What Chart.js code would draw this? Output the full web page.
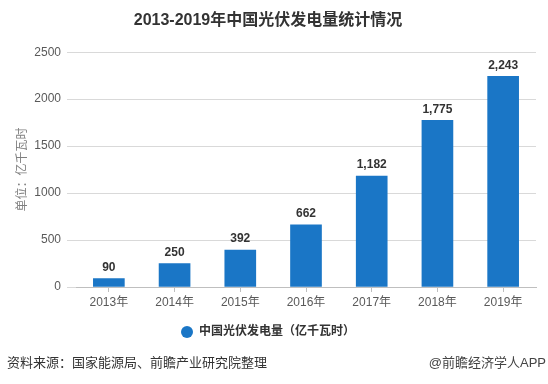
<!DOCTYPE html>
<html>
<head>
<meta charset="utf-8">
<script src="https://cdn.jsdelivr.net/npm/chart.js@4/dist/chart.umd.min.js"></script>
<style>
  body { margin: 0; background: #fff; }
  #wrap { position: relative; width: 548px; height: 384px; }
  .foot { position: absolute; top: 355px; font: 13px 'Liberation Sans', 'Noto Sans CJK SC', sans-serif; color: #333; line-height: 16px; white-space: nowrap; }
  #src { left: 7px; }
  #app { right: 2px; color: #444; }
</style>
</head>
<body>
<div id="wrap">
  <canvas id="chart" width="548" height="384"></canvas>
  <div class="foot" id="src">资料来源：国家能源局、前瞻产业研究院整理</div>
  <div class="foot" id="app">@前瞻经济学人APP</div>
</div>
<script>
// 数据
const years = ['2013年', '2014年', '2015年', '2016年', '2017年', '2018年', '2019年'];
const generation = [90, 250, 392, 662, 1182, 1775, 2243];
const yTicks = [0, 500, 1000, 1500, 2000, 2500];

const FONT = "'Liberation Sans', 'Noto Sans CJK SC', sans-serif";

// 柱顶数值
const barLabels = {
  id: 'barLabels',
  afterDatasetsDraw(chart) {
    const ctx = chart.ctx;
    const meta = chart.getDatasetMeta(0);
    ctx.save();
    ctx.font = 'bold 12px ' + FONT;
    ctx.fillStyle = '#333';
    ctx.textAlign = 'center';
    ctx.textBaseline = 'middle';
    meta.data.forEach((bar, i) => {
      ctx.fillText(generation[i].toLocaleString('en-US'), bar.x, bar.y - 11);
    });
    ctx.restore();
  }
};

const ctx = document.getElementById('chart').getContext('2d');
new Chart(ctx, {
  type: 'bar',
  data: {
    labels: years,
    datasets: [{
      label: '中国光伏发电量（亿千瓦时）',
      data: generation,
      backgroundColor: '#1a76c6',
      barThickness: 31
    }]
  },
  options: {
    responsive: false,
    animation: false,
    layout: { padding: { left: 0, right: 12, top: 0, bottom: 36 } },
    plugins: {
      title: {
        display: true,
        text: '2013-2019年中国光伏发电量统计情况',
        color: '#333',
        font: { family: FONT, size: 16, weight: 'bold' },
        padding: { top: 11, bottom: 22 }
      },
      legend: {
        position: 'bottom',
        labels: {
          usePointStyle: true,
          pointStyle: 'circle',
          boxWidth: 12,
          boxHeight: 8.5,
          padding: 9,
          color: '#333',
          font: { family: FONT, size: 12, weight: 'bold' }
        }
      },
      tooltip: { enabled: false }
    },
    scales: {
      x: {
        afterFit: (scale) => { scale.height = 30; },
        grid: { offset: false, drawOnChartArea: false, drawTicks: true, tickLength: 5, color: '#bfbfbf' },
        border: { color: '#bfbfbf' },
        ticks: { color: '#595959', padding: 3, font: { family: FONT, size: 12 } }
      },
      y: {
        min: 0,
        max: 2500,
        afterFit: (scale) => { scale.width = 76; },
        afterBuildTicks: (scale) => { scale.ticks = yTicks.map(v => ({ value: v })); },
        grid: { color: '#d9d9d9', tickLength: 9 },
        border: { display: false },
        ticks: {
          color: '#595959',
          padding: 6,
          font: { family: FONT, size: 12 },
          callback: (v) => String(v)
        },
        title: {
          display: true,
          text: '单位：亿千瓦时',
          color: '#7f7f7f',
          padding: { top: 15, bottom: 0 },
          font: { family: FONT, size: 12 }
        }
      }
    }
  },
  plugins: [barLabels]
});
</script>
</body>
</html>
